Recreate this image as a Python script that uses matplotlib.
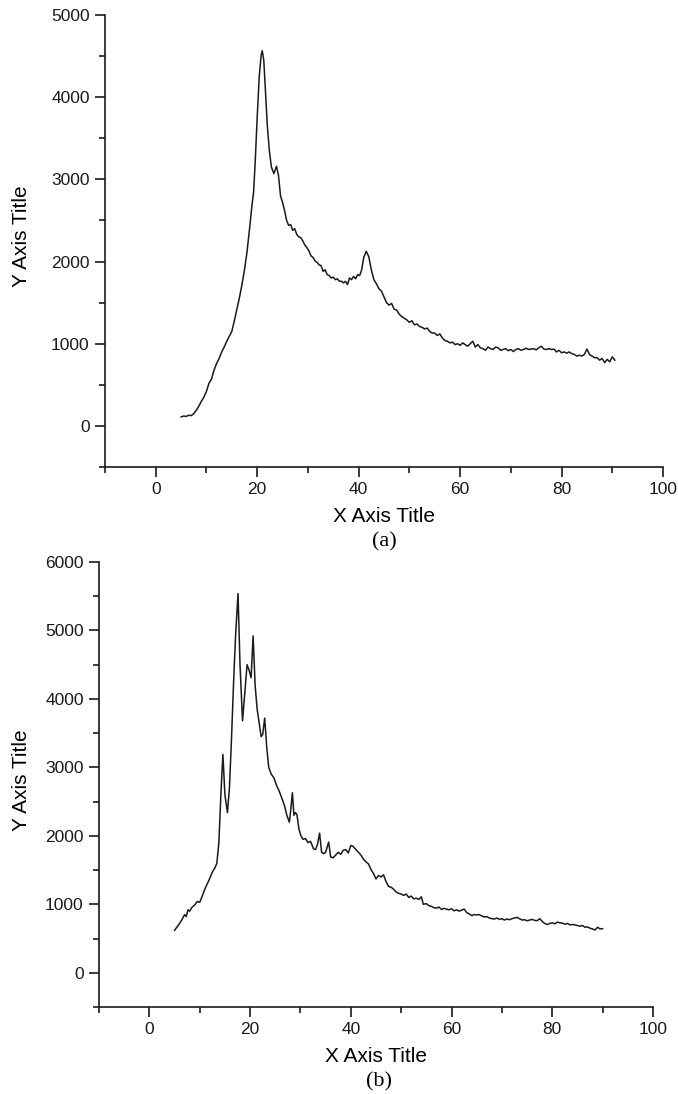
import matplotlib
matplotlib.use("Agg")
import matplotlib.pyplot as plt
from matplotlib.ticker import MultipleLocator

# ---- data (a) ----
xa = [5.0, 5.5, 6.0, 6.5, 7.0, 7.5, 8.0, 8.5, 9.0, 9.5, 10.0, 10.5, 11.0, 11.5, 12.0, 12.5,
      13.0, 13.5, 14.0, 14.5, 15.0, 15.5, 16.0, 16.5, 17.0, 17.5, 18.0, 18.5, 19.0, 19.3, 19.6,
      20.0, 20.4, 20.8, 21.0, 21.3, 21.6, 22.0, 22.4, 22.8, 23.3, 23.8, 24.2, 24.6, 25.0, 25.4,
      25.8, 26.2, 26.6, 27.0, 27.4, 27.8, 28.2, 28.6, 29.0, 29.4, 29.8, 30.2, 30.6, 31.0, 31.4,
      31.8, 32.2, 32.6, 33.0, 33.4, 33.8, 34.2, 34.6, 35.0, 35.4, 35.8, 36.2, 36.6, 37.0, 37.4,
      37.8, 38.2, 38.6, 39.0, 39.4, 39.8, 40.2, 40.6, 41.0, 41.5, 42.0, 42.5, 43.0, 43.5, 44.0,
      44.5, 45.0, 45.5, 46.0, 46.5, 47.0, 47.5, 48.0, 48.5, 49.0, 49.5, 50.0, 50.5, 51.0, 51.5,
      52.0, 52.5, 53.0, 53.5, 54.0, 54.5, 55.0, 55.5, 56.0, 56.5, 57.0, 57.5, 58.0, 58.5, 59.0,
      59.5, 60.0, 60.5, 61.0, 61.5, 62.0, 62.5, 63.0, 63.5, 64.0, 64.5, 65.0, 65.5, 66.0, 66.5,
      67.0, 67.5, 68.0, 68.5, 69.0, 69.5, 70.0, 70.5, 71.0, 71.5, 72.0, 72.5, 73.0, 73.5, 74.0,
      74.5, 75.0, 75.5, 76.0, 76.5, 77.0, 77.5, 78.0, 78.5, 79.0, 79.5, 80.0, 80.5, 81.0, 81.5,
      82.0, 82.5, 83.0, 83.5, 84.0, 84.5, 85.0, 85.5, 86.0, 86.5, 87.0, 87.5, 88.0, 88.5, 89.0,
      89.5, 90.0, 90.5]
ya = [110, 120, 115, 130, 125, 150, 190, 240, 300, 350, 420, 520, 570, 680, 760, 820,
      900, 960, 1030, 1090, 1150, 1280, 1420, 1560, 1720, 1900, 2120, 2400, 2700, 2850, 3200,
      3750, 4250, 4520, 4565, 4450, 4100, 3650, 3350, 3150, 3070, 3160, 3050, 2800, 2720, 2620,
      2500, 2440, 2450, 2380, 2400, 2330, 2300, 2290, 2250, 2200, 2170, 2130, 2070, 2050, 2010,
      1990, 1960, 1950, 1880, 1900, 1840, 1830, 1800, 1810, 1780, 1790, 1760, 1760, 1740, 1760,
      1720, 1800, 1780, 1820, 1790, 1840, 1830, 1900, 2050, 2125, 2060, 1900, 1780, 1730, 1670,
      1640, 1570, 1500, 1470, 1490, 1420, 1410, 1360, 1330, 1310, 1290, 1260, 1280, 1230, 1240,
      1210, 1200, 1180, 1190, 1150, 1130, 1130, 1100, 1120, 1070, 1040, 1030, 1010, 1020, 990,
      1000, 980, 1010, 990, 970, 1000, 1030, 960, 990, 950, 940, 920, 960, 940, 930,
      960, 950, 920, 930, 940, 915, 930, 905, 930, 940, 920, 930, 945, 930, 935,
      940, 925, 950, 970, 935, 930, 940, 930, 935, 900, 920, 890, 900, 885, 900,
      880, 870, 850, 860, 850, 870, 935, 870, 850, 830, 830, 800, 820, 770, 810,
      780, 840, 800]

# ---- data (b) ----
xb = [5.0, 5.5, 6.0, 6.5, 7.0, 7.3, 7.7, 8.0, 8.5, 9.0, 9.5, 10.0, 10.5, 11.0, 11.5, 12.0,
      12.5, 13.0, 13.4, 13.8, 14.2, 14.6, 15.0, 15.5, 15.9, 16.3, 16.7, 17.1, 17.6, 18.0, 18.5,
      18.9, 19.4, 19.8, 20.2, 20.6, 21.0, 21.4, 21.8, 22.2, 22.5, 22.9, 23.3, 23.7, 24.2, 24.7,
      25.3, 25.8, 26.3, 26.8, 27.3, 27.8, 28.1, 28.4, 28.7, 29.0, 29.3, 29.7, 30.1, 30.5, 31.0,
      31.5, 32.0, 32.6, 33.0, 33.4, 33.8, 34.2, 34.6, 35.0, 35.6, 36.0, 36.5, 37.0, 37.5, 38.0,
      38.5, 39.0, 39.5, 40.0, 40.4, 41.0, 41.5, 42.0, 42.5, 43.0, 43.5, 44.0, 44.5, 45.0, 45.5,
      46.0, 46.5, 47.0, 47.5, 48.0, 48.5, 49.0, 49.5, 50.0, 50.5, 51.0, 51.5, 52.0, 52.5, 53.0,
      53.5, 54.0, 54.4, 55.0, 55.5, 56.0, 56.5, 57.0, 57.5, 58.0, 58.5, 59.0, 59.5, 60.0, 60.5,
      61.0, 61.5, 62.0, 62.5, 63.0, 63.5, 64.0, 64.5, 65.0, 65.5, 66.0, 66.5, 67.0, 67.5, 68.0,
      68.5, 69.0, 69.5, 70.0, 70.5, 71.0, 71.5, 72.0, 72.5, 73.0, 73.5, 74.0, 74.5, 75.0, 75.5,
      76.0, 76.5, 77.0, 77.5, 78.0, 78.5, 79.0, 79.5, 80.0, 80.5, 81.0, 81.5, 82.0, 82.5, 83.0,
      83.5, 84.0, 84.5, 85.0, 85.5, 86.0, 86.5, 87.0, 87.5, 88.0, 88.5, 89.0, 89.5, 90.0]
yb = [620, 670, 720, 780, 850, 820, 920, 900, 960, 990, 1040, 1030, 1120, 1220, 1300, 1380,
      1470, 1530, 1600, 1900, 2600, 3190, 2600, 2340, 2700, 3400, 4200, 4900, 5540, 4500, 3680,
      4050, 4500, 4420, 4310, 4920, 4200, 3850, 3650, 3450, 3480, 3720, 3300, 3000, 2900, 2850,
      2730, 2650, 2550, 2450, 2300, 2200, 2400, 2630, 2300, 2340, 2310, 2100, 2000, 1950, 1960,
      1900, 1920, 1810, 1800, 1880, 2040, 1760, 1740, 1760, 1910, 1690, 1680, 1720, 1760, 1730,
      1790, 1800, 1750, 1860, 1850, 1800, 1760, 1720, 1660, 1620, 1590, 1510, 1450, 1370, 1420,
      1400, 1430, 1330, 1260, 1250, 1220, 1180, 1160, 1150, 1130, 1150, 1100, 1120, 1080, 1090,
      1070, 1110, 1000, 1010, 980, 970, 950, 945, 960, 925, 940, 930, 920, 935, 905,
      920, 900, 915, 930, 880, 860, 835, 850, 845, 850, 830, 815, 820, 800, 790,
      785, 800, 780, 790, 770, 785, 775, 790, 800, 810, 790, 770, 775, 760, 770,
      780, 765, 760, 790, 750, 720, 705, 720, 730, 715, 740, 730, 725, 710, 720,
      700, 705, 700, 690, 680, 690, 665, 670, 650, 640, 625, 665, 640, 645]

x_label = "X Axis Title"
y_label = "Y Axis Title"
panel_labels = ["(a)", "(b)"]

W, H = 678, 1094
fig = plt.figure(figsize=(W / 100, H / 100), dpi=100)
plt.rcParams['font.family'] = ['Liberation Sans', 'DejaVu Sans']

def px_rect(l, t, r, b):
    return [l / W, 1 - b / H, (r - l) / W, (b - t) / H]

axA = fig.add_axes(px_rect(105, 15, 663, 467))
axB = fig.add_axes(px_rect(99, 562, 653, 1007))

for ax, x, y, ylim, ymaj in [(axA, xa, ya, (-500, 5000), 1000), (axB, xb, yb, (-500, 6000), 1000)]:
    ax.plot(x, y, color='#1a1a1a', lw=1.1)
    ax.set_xlim(-10, 100)
    ax.set_ylim(*ylim)
    ax.xaxis.set_major_locator(MultipleLocator(20))
    ax.xaxis.set_minor_locator(MultipleLocator(10))
    ax.yaxis.set_major_locator(MultipleLocator(ymaj))
    ax.yaxis.set_minor_locator(MultipleLocator(ymaj / 2))
    for s in ['top', 'right']:
        ax.spines[s].set_visible(False)
    for s in ['left', 'bottom']:
        ax.spines[s].set_linewidth(1.2)
        ax.spines[s].set_color('#1a1a1a')
    ax.tick_params(which='major', direction='out', length=7, width=1.2, labelsize=12.5,
                   pad=4, colors='#1a1a1a')
    ax.tick_params(which='minor', direction='out', length=4, width=1.2, colors='#1a1a1a')

fig.text(22 / W, 1 - 236 / H, y_label, rotation=90, ha='center', va='center', fontsize=15)
fig.text(22 / W, 1 - 780 / H, y_label, rotation=90, ha='center', va='center', fontsize=15)
fig.text(384 / W, 1 - 516 / H, x_label, ha='center', va='center', fontsize=15)
fig.text(376 / W, 1 - 1057 / H, x_label, ha='center', va='center', fontsize=15)
fig.text(384 / W, 1 - 542 / H, panel_labels[0], ha='center', va='center', fontsize=16,
         family=['Liberation Serif', 'DejaVu Serif'])
fig.text(379 / W, 1 - 1082 / H, panel_labels[1], ha='center', va='center', fontsize=16,
         family=['Liberation Serif', 'DejaVu Serif'])

fig.savefig("out.png", dpi=100)
